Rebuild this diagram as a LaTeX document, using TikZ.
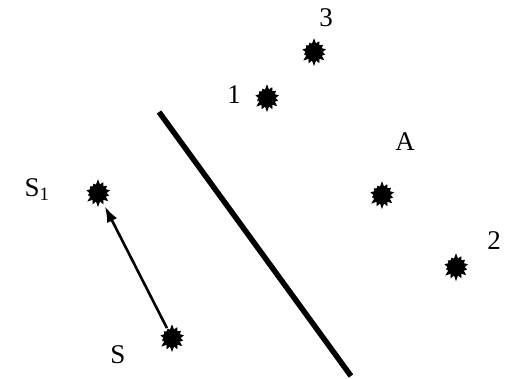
\documentclass[tikz,border=0pt]{standalone}
\usepackage{fontspec}
\setmainfont{Liberation Serif}
\usetikzlibrary{positioning, arrows.meta, shapes.symbols}

\begin{document}
\begin{tikzpicture}[
  x=1pt, y=-1pt,
  spot/.style={starburst, starburst points=14, starburst point height=5pt,
               random starburst=7, fill=black, draw=black, line width=0.8pt,
               inner sep=0pt, minimum size=26pt},
  lbl/.style={font=\fontsize{27}{32}\selectfont, inner sep=0pt},
  move/.style={-{Latex[length=16pt, width=11pt]}, line width=2.6pt,
               shorten >=3pt, shorten <=1pt},
  wall/.style={line width=5.5pt}]
  \useasboundingbox (0,0) rectangle (506,379);

  % --- the points
  \node[spot] (s1) at ( 98, 193) {};
  \node[spot] (s)  at (172, 338) {};
  \node[spot] (p1) at (267,  98) {};
  \node[spot] (p3) at (314,  52) {};
  \node[spot] (pa) at (382, 195) {};
  \node[spot] (p2) at (456, 267) {};

  % --- their names
  \node[lbl] (ls1) at ( 37, 190) {S\textsubscript{1}};
  \node[lbl] (ls)  at (118, 355) {S};
  \node[lbl] (l1)  at (234,  95) {1};
  \node[lbl] (l3)  at (326,  18) {3};
  \node[lbl] (la)  at (405, 142) {A};
  \node[lbl] (l2)  at (494, 241) {2};

  % --- the move and the mirror line
  \draw[move] (s) -- (s1);
  \coordinate (wtop) at (159, 112);
  \coordinate (wbot) at (351, 376);
  \draw[wall] (wtop) -- (wbot);
\end{tikzpicture}
\end{document}
